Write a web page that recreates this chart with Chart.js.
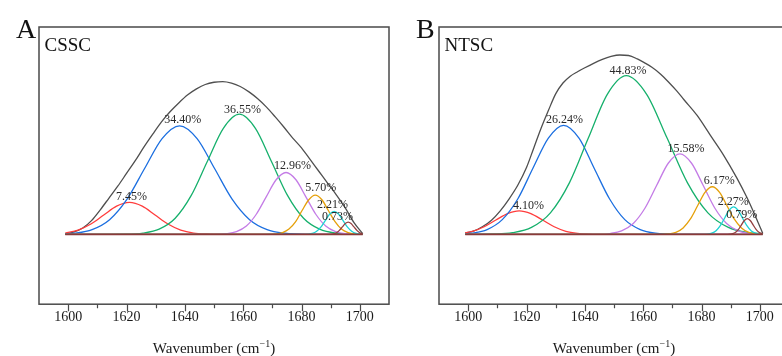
<!DOCTYPE html>
<html><head><meta charset="utf-8">
<script src="https://cdn.jsdelivr.net/npm/chart.js@4.4.1/dist/chart.umd.min.js"></script>
<style>
html,body{margin:0;padding:0;background:#fff;overflow:hidden;width:782px;height:356px;}
#wrap{position:relative;width:782px;height:356px;overflow:hidden;background:#fff;}
.panel{position:absolute;top:0;width:400px;height:356px;}
canvas{display:block;}
</style></head><body>
<div id="wrap">
<div class="panel" style="left:0"><canvas id="cA" width="400" height="356"></canvas></div>
<div class="panel" style="left:400px"><canvas id="cB" width="400" height="356"></canvas></div>
</div>
<script>
// ---------- Panel A (CSSC): wavenumber / intensity pairs ----------
const A_envelope = [[1599,0.5],[1602,2.5],[1605,6.5],[1608,14],[1611,25],[1614,37],[1617,49],[1620,62],[1623,75],[1626,89],[1629,102],[1632,114.5],[1635,125],[1638,134],[1641,142],[1644,148],[1647,152.5],[1650,154.8],[1653,155.5],[1656,154],[1659,150.5],[1662,145],[1665,138],[1668,129.5],[1671,119.5],[1674,109],[1677,98],[1680,88],[1683,76],[1686,64],[1689,52],[1692,40],[1695,27],[1698,12],[1701,0.7]];
const A_red    = [[1599,1.4],[1603.4,4.4],[1607.8,10.6],[1612.2,19.7],[1616.6,28.7],[1621,32.5],[1625.4,28.7],[1629.8,19.7],[1634.2,10.6],[1638.6,4.4],[1643,1.4],[1647.4,0.4],[1655,0],[1701,0]];
const A_blue   = [[1599,0.5],[1602.2,1.2],[1608.2,4.9],[1614.2,15],[1620.2,35.9],[1626.2,67],[1632.2,97.5],[1638.2,110.5],[1644.2,97.5],[1650.2,67],[1656.2,35.9],[1662.2,15],[1668.2,4.9],[1674.2,1.2],[1682,0.1],[1701,0]];
const A_green  = [[1599,0],[1620,0.3],[1625.7,1.4],[1631.2,5.4],[1636.7,16.5],[1642.2,39.7],[1647.7,74.2],[1653.2,107.9],[1658.7,122.3],[1664.2,107.9],[1669.7,74.2],[1675.2,39.7],[1680.7,16.5],[1686.2,5.4],[1691.7,1.4],[1701,0.1]];
const A_purple = [[1599,0],[1650,0],[1654.3,0.7],[1657.7,2.8],[1661.1,8.5],[1664.5,20.5],[1667.9,38.2],[1671.3,55.6],[1674.7,63],[1678.1,55.6],[1681.5,38.2],[1684.9,20.5],[1688.3,8.5],[1691.7,2.8],[1695.1,0.7],[1701,0]];
const A_orange = [[1599,0],[1668,0],[1671.2,0.4],[1673.5,1.8],[1675.7,5.4],[1678,13],[1680.2,24.3],[1682.5,35.3],[1684.7,40],[1687,35.3],[1689.2,24.3],[1691.5,13],[1693.7,5.4],[1696,1.8],[1698.2,0.4],[1701,0]];
const A_cyan   = [[1599,0],[1680,0],[1682.2,0.3],[1683.7,1],[1685.2,3.2],[1686.7,7.6],[1688.2,14.3],[1689.7,20.7],[1691.2,23.5],[1692.7,20.7],[1694.2,14.3],[1695.7,7.6],[1697.2,3.2],[1698.7,1],[1700.2,0.3],[1701,0.1]];
const A_brown  = [[1599,0],[1688,0],[1690,0.1],[1691,0.5],[1692,1.7],[1693,4.1],[1694,7.6],[1695,11],[1696,12.5],[1697,11],[1698,7.6],[1699,4.1],[1700,1.7],[1701,0.5]];
const A_baseline = [[1599,0],[1701,0]];
const A_peakLabels = ['7.45%','34.40%','36.55%','12.96%','5.70%','2.21%','0.73%'];
const A_labelX = [1621.7,1639.3,1659.8,1676.9,1686.6,1690.6,1692.3];
const A_labelY = [38,116.3,127,69.7,47,29.7,18];

// ---------- Panel B (NTSC) ----------
const B_envelope = [[1599,1.5],[1602,3.5],[1605,8],[1608,14.5],[1611,24],[1614,36],[1617,50],[1620,68],[1622.5,88],[1625,108],[1627.5,126],[1630,143],[1632.5,154],[1635,161],[1637.5,165.5],[1640,169.5],[1643,174],[1646,178],[1649,181],[1652,182.5],[1655,182],[1658,178.5],[1660.5,174.5],[1663,170],[1666,163],[1669,154],[1671.5,146],[1674,137],[1678.5,121],[1683,101],[1687.5,81],[1692,58],[1695.5,38],[1699,15],[1701,1]];
const B_red    = [[1599,1.7],[1601.5,3.2],[1605.5,7.8],[1609.5,14.6],[1613.5,21.2],[1617.5,24],[1621.5,21.2],[1625.5,14.6],[1629.5,7.8],[1633.5,3.2],[1637.5,1.1],[1641.5,0.3],[1648,0],[1701,0]];
const B_blue   = [[1599,0.6],[1601.2,1.2],[1606.5,4.9],[1611.7,15],[1617,36],[1622.2,67.3],[1627.5,98],[1632.7,111],[1638,98],[1643.2,67.3],[1648.5,36],[1653.7,15],[1659,4.9],[1664.2,1.2],[1672,0.1],[1701,0]];
const B_green  = [[1599,0],[1609,0.4],[1615.2,1.8],[1621.7,7.1],[1628.2,21.9],[1634.7,52.4],[1641.2,98],[1647.7,142.5],[1654.2,161.5],[1661.2,142.5],[1668.2,98],[1675.2,52.4],[1682.2,21.9],[1689.2,7.1],[1696.2,1.8],[1701,0.6]];
const B_purple = [[1599,0],[1645,0],[1648.6,0.9],[1652.6,3.6],[1656.6,11.1],[1660.6,26.6],[1664.6,49.7],[1668.6,72.4],[1672.6,82],[1676.6,72.4],[1680.6,49.7],[1684.6,26.6],[1688.6,11.1],[1692.6,3.6],[1696.6,0.9],[1701,0.2]];
const B_orange = [[1599,0],[1666,0],[1668.7,0.5],[1671.2,2.1],[1673.7,6.6],[1676.2,15.7],[1678.7,29.4],[1681.2,42.8],[1683.7,48.5],[1686.2,42.8],[1688.7,29.4],[1691.2,15.7],[1693.7,6.6],[1696.2,2.1],[1698.7,0.5],[1701,0.1]];
const B_cyan   = [[1599,0],[1680,0],[1682,0.3],[1683.5,1.2],[1685,3.8],[1686.5,9.1],[1688,17],[1689.5,24.7],[1691,28],[1692.5,24.7],[1694,17],[1695.5,9.1],[1697,3.8],[1698.5,1.2],[1700,0.3],[1701,0.1]];
const B_brown  = [[1599,0],[1688,0],[1689.7,0.2],[1690.7,0.7],[1691.7,2.2],[1692.7,5.2],[1693.7,9.7],[1694.7,14.1],[1695.7,16],[1696.7,14.1],[1697.7,9.7],[1698.7,5.2],[1699.7,2.2],[1701,0.6]];
const B_baseline = [[1599,0],[1701,0]];
const B_peakLabels = ['4.10%','26.24%','44.83%','15.58%','6.17%','2.27%','0.79%'];
const B_labelX = [1620.7,1633,1654.8,1674.7,1686.1,1690.9,1693.8];
const B_labelY = [28.7,117,166.3,87.3,54,32.7,19.7];

const xTickValues = [1600,1620,1640,1660,1680,1700];

// ---------- styling ----------
const COLORS = {envelope:'#4f4f4f', red:'#ff3c3c', blue:'#1c6fe0', green:'#16b06c', purple:'#c47ce6', orange:'#e5a00a', cyan:'#1fd2d2', brown:'#944040', baseline:'#8a3a3a'};
const SERIF = '"Liberation Serif", "Times New Roman", serif';

function ds(points, color, width, order) {
  return {
    data: points.map(p => ({x: p[0], y: p[1]})),
    borderColor: color, backgroundColor: color, borderWidth: width,
    pointRadius: 0, pointHoverRadius: 0, showLine: true, fill: false,
    cubicInterpolationMode: 'monotone', tension: 0.4, order: order
  };
}

const deco = {
  id: 'deco',
  afterDraw(chart, args, o) {
    const {ctx, chartArea: a} = chart;
    const x = chart.scales.x, y = chart.scales.y;
    ctx.save();
    // peak percentage labels
    ctx.fillStyle = '#2a2a2a';
    ctx.font = '12px ' + SERIF;
    ctx.textAlign = 'center'; ctx.textBaseline = 'middle';
    o.texts.forEach((t, i) => ctx.fillText(t, x.getPixelForValue(o.tx[i]), y.getPixelForValue(o.ty[i])));
    // frame
    ctx.strokeStyle = '#4a4a4a'; ctx.lineWidth = 1.5;
    ctx.strokeRect(a.left, a.top, a.right - a.left, a.bottom - a.top);
    // tick marks (major every 20, minor every 10)
    ctx.beginPath();
    x.ticks.forEach(tk => {
      const v = tk.value;
      if (v <= x.min || v >= x.max) return;
      const px = Math.round(x.getPixelForValue(v)) + 0.5;
      const len = xTickValues.includes(v) ? 7 : 4;
      ctx.moveTo(px, a.bottom); ctx.lineTo(px, a.bottom + len);
    });
    ctx.lineWidth = 1.2; ctx.stroke();
    // panel letter and sample name
    ctx.fillStyle = '#111'; ctx.textAlign = 'left'; ctx.textBaseline = 'alphabetic';
    ctx.font = '28px ' + SERIF; ctx.fillText(o.letter, 16, 37.5);
    ctx.font = '19px ' + SERIF; ctx.fillText(o.name, a.left + 5.5, 50.5);
    // axis title with superscript
    const main = 'Wavenumber (cm', sup = '\u22121', close = ')';
    ctx.font = '15px ' + SERIF; const w1 = ctx.measureText(main).width; const w3 = ctx.measureText(close).width;
    ctx.font = '10px ' + SERIF; const w2 = ctx.measureText(sup).width;
    let sx = (a.left + a.right) / 2 - (w1 + w2 + w3) / 2;
    const base = 353;
    ctx.fillStyle = '#1a1a1a';
    ctx.font = '15px ' + SERIF; ctx.fillText(main, sx, base); sx += w1;
    ctx.font = '10px ' + SERIF; ctx.fillText(sup, sx, base - 6); sx += w2;
    ctx.font = '15px ' + SERIF; ctx.fillText(close, sx, base);
    ctx.restore();
  }
};

function makeChart(id, s, letter, name, texts, tx, ty) {
  return new Chart(document.getElementById(id), {
    type: 'scatter',
    data: { datasets: [
      ds(s.baseline, COLORS.baseline, 1.8, 1),
      ds(s.brown, COLORS.brown, 1.3, 2),
      ds(s.cyan, COLORS.cyan, 1.3, 3),
      ds(s.orange, COLORS.orange, 1.3, 4),
      ds(s.purple, COLORS.purple, 1.3, 5),
      ds(s.green, COLORS.green, 1.3, 6),
      ds(s.blue, COLORS.blue, 1.3, 7),
      ds(s.red, COLORS.red, 1.3, 8),
      ds(s.envelope, COLORS.envelope, 1.3, 9)
    ]},
    options: {
      responsive: false, animation: false, devicePixelRatio: 1,
      layout: { padding: { left: 39, right: 11, top: 27, bottom: 25 } },
      plugins: { legend: {display: false}, tooltip: {enabled: false},
        deco: { letter, name, texts, tx, ty } },
      scales: {
        x: { type: 'linear', min: 1590, max: 1710,
          grid: { display: false, drawTicks: false }, border: { display: false },
          ticks: { stepSize: 10, autoSkip: false, maxRotation: 0, padding: 5, color: '#1a1a1a',
            font: { family: SERIF, size: 14 },
            callback: v => (xTickValues.includes(v) ? String(v) : '') } },
        y: { display: false, min: -71, max: 211 }
      }
    },
    plugins: [deco]
  });
}

makeChart('cA', {envelope:A_envelope, red:A_red, blue:A_blue, green:A_green, purple:A_purple, orange:A_orange, cyan:A_cyan, brown:A_brown, baseline:A_baseline}, 'A', 'CSSC', A_peakLabels, A_labelX, A_labelY);
makeChart('cB', {envelope:B_envelope, red:B_red, blue:B_blue, green:B_green, purple:B_purple, orange:B_orange, cyan:B_cyan, brown:B_brown, baseline:B_baseline}, 'B', 'NTSC', B_peakLabels, B_labelX, B_labelY);
</script>
</body></html>
